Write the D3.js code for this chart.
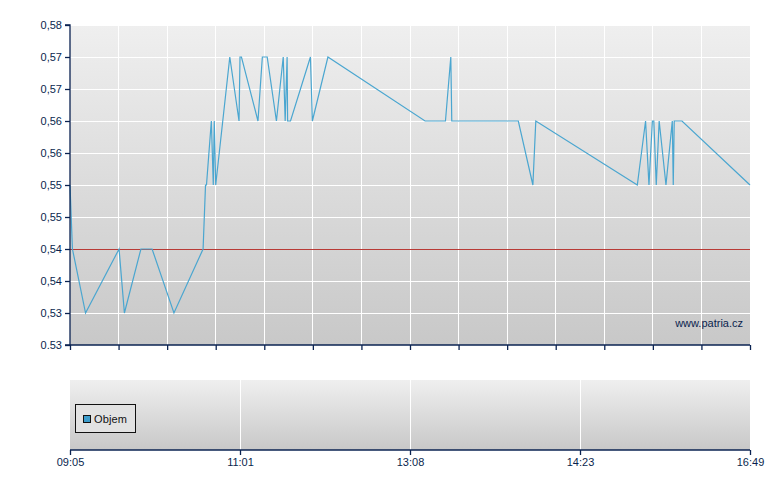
<!DOCTYPE html>
<html>
<head>
<meta charset="utf-8">
<script src="https://cdn.jsdelivr.net/npm/d3@7"></script>
<style>
  html, body { margin: 0; padding: 0; background: #ffffff; }
  svg { display: block; font-family: "Liberation Sans", Arial, sans-serif; }
</style>
</head>
<body>
<svg id="chart" width="780" height="490"></svg>
<script>
// ---- data (x = position along the session axis, in grid units 0..14) ----
const pos = [0, 0.05, 0.32, 1.01, 1.12, 1.46, 1.69, 2.14, 2.74, 2.79, 2.81, 2.91, 2.95, 2.97, 3.00,
  3.29, 3.48, 3.50, 3.53, 3.87, 3.96, 4.06, 4.25, 4.39, 4.43, 4.47, 4.48, 4.54, 4.95, 4.99, 5.31,
  7.31, 7.73, 7.84, 7.86, 9.23, 9.53, 9.59, 11.68, 11.85, 11.92, 11.99, 12.02, 12.07, 12.13, 12.27,
  12.40, 12.42, 12.44, 12.60, 14];
const price = [0.555, 0.545, 0.535, 0.545, 0.535, 0.545, 0.545, 0.535, 0.545, 0.555, 0.555, 0.565, 0.555, 0.565, 0.555,
  0.575, 0.565, 0.575, 0.575, 0.565, 0.575, 0.575, 0.565, 0.575, 0.565, 0.575, 0.565, 0.565, 0.575, 0.565, 0.575,
  0.565, 0.565, 0.575, 0.565, 0.565, 0.555, 0.565, 0.555, 0.565, 0.555, 0.565, 0.565, 0.555, 0.565, 0.555,
  0.565, 0.555, 0.565, 0.565, 0.555];
const prevClose = 0.545;
const yTickValues = [0.53, 0.535, 0.54, 0.545, 0.55, 0.555, 0.56, 0.565, 0.57, 0.575, 0.58];
const yTickLabels = ["0.53", "0,53", "0,54", "0,54", "0,55", "0,55", "0,56", "0,56", "0,57", "0,57", "0,58"];
const xGridMain = d3.range(0, 15);               // minor vertical grid / ticks
const xLabelPos = [0, 3.5, 7, 10.5, 14];
const xLabels = ["09:05", "11:01", "13:08", "14:23", "16:49"];
const legendLabel = "Objem";
const watermark = "www.patria.cz";

// ---- layout ----
const L = 70, R = 750, T = 25, B = 345;
const T2 = 380, B2 = 450;
const axisColor = "#0b2352";
const textColor = "#0a1f4e";

const svg = d3.select("#chart");
const defs = svg.append("defs");
const grad = defs.append("linearGradient").attr("id", "bg").attr("x1", 0).attr("y1", 0).attr("x2", 0).attr("y2", 1);
grad.append("stop").attr("offset", "0%").attr("stop-color", "#efefef");
grad.append("stop").attr("offset", "100%").attr("stop-color", "#c8c8c8");

const x = d3.scaleLinear().domain([0, 14]).range([L, R]);
const y = d3.scaleLinear().domain([0.53, 0.58]).range([B, T]);

// ---- main panel ----
svg.append("rect").attr("x", L).attr("y", T).attr("width", R - L).attr("height", B - T).attr("fill", "url(#bg)");

const grid = svg.append("g").attr("stroke", "#ffffff").attr("stroke-width", 1).attr("shape-rendering", "crispEdges");
grid.selectAll("line.h").data(yTickValues.slice(1)).join("line")
  .attr("x1", L).attr("x2", R).attr("y1", d => y(d)).attr("y2", d => y(d));
grid.selectAll("line.v").data(xGridMain.slice(1, -1)).join("line")
  .attr("x1", d => x(d)).attr("x2", d => x(d)).attr("y1", T).attr("y2", B);

// previous close reference line
svg.append("line").attr("x1", L).attr("x2", R).attr("y1", y(prevClose)).attr("y2", y(prevClose))
  .attr("stroke", "#b83a36").attr("stroke-width", 1).attr("shape-rendering", "crispEdges");

// price line
const line = d3.line().x((d, i) => x(pos[i])).y(d => y(d));
svg.append("path").datum(price).attr("d", line)
  .attr("fill", "none").attr("stroke", "#4aa6d0").attr("stroke-width", 1.2);

// axes
const yAxis = d3.axisLeft(y).tickValues(yTickValues).tickSize(5).tickPadding(3)
  .tickFormat((d, i) => yTickLabels[i]);
const gy = svg.append("g").attr("transform", `translate(${L},0)`).call(yAxis);
gy.select(".domain").attr("stroke", axisColor).attr("stroke-width", 1.3).attr("d", `M-5,${T}H0V${B}H-5`);
gy.selectAll(".tick line").attr("stroke", axisColor).attr("stroke-width", 1.3);
gy.selectAll(".tick text").attr("fill", textColor).attr("font-size", 11)
  .attr("font-family", "'Liberation Sans', Arial, sans-serif");

const xAxisMain = d3.axisBottom(x).tickValues(xGridMain).tickSize(5).tickFormat("");
const gx = svg.append("g").attr("transform", `translate(0,${B})`).call(xAxisMain);
gx.select(".domain").attr("stroke", axisColor).attr("stroke-width", 1.3).attr("d", `M${L},0H${R}`);
gx.selectAll(".tick line").attr("stroke", axisColor).attr("stroke-width", 1.3);

// watermark
svg.append("text").attr("x", 743).attr("y", 327).attr("text-anchor", "end")
  .attr("font-size", 11).attr("fill", textColor).text(watermark);

// ---- volume panel ----
svg.append("rect").attr("x", L).attr("y", T2).attr("width", R - L).attr("height", B2 - T2).attr("fill", "url(#bg)");
svg.append("g").attr("stroke", "#ffffff").attr("stroke-width", 1).attr("shape-rendering", "crispEdges")
  .selectAll("line").data(xLabelPos.slice(1, -1)).join("line")
  .attr("x1", d => x(d)).attr("x2", d => x(d)).attr("y1", T2).attr("y2", B2);

const xAxis2 = d3.axisBottom(x).tickValues(xLabelPos).tickSize(5).tickPadding(3)
  .tickFormat((d, i) => xLabels[i]);
const gx2 = svg.append("g").attr("transform", `translate(0,${B2})`).call(xAxis2);
gx2.select(".domain").attr("stroke", axisColor).attr("stroke-width", 1.3).attr("d", `M${L},0H${R}`);
gx2.selectAll(".tick line").attr("stroke", axisColor).attr("stroke-width", 1.3);
gx2.selectAll(".tick text").attr("fill", textColor).attr("font-size", 11)
  .attr("font-family", "'Liberation Sans', Arial, sans-serif");

// legend
const lg = svg.append("g");
lg.append("rect").attr("x", 75.5).attr("y", 404.5).attr("width", 60).attr("height", 28)
  .attr("fill", "#e2e2e2").attr("stroke", "#111111").attr("stroke-width", 1);
lg.append("rect").attr("x", 83.5).attr("y", 415.5).attr("width", 7).attr("height", 7)
  .attr("fill", "#3d9dcc").attr("stroke", "#111111").attr("stroke-width", 1);
lg.append("text").attr("x", 94).attr("y", 423).attr("font-size", 11).attr("fill", "#111111")
  .attr("textLength", 33).text(legendLabel);
</script>
</body>
</html>
